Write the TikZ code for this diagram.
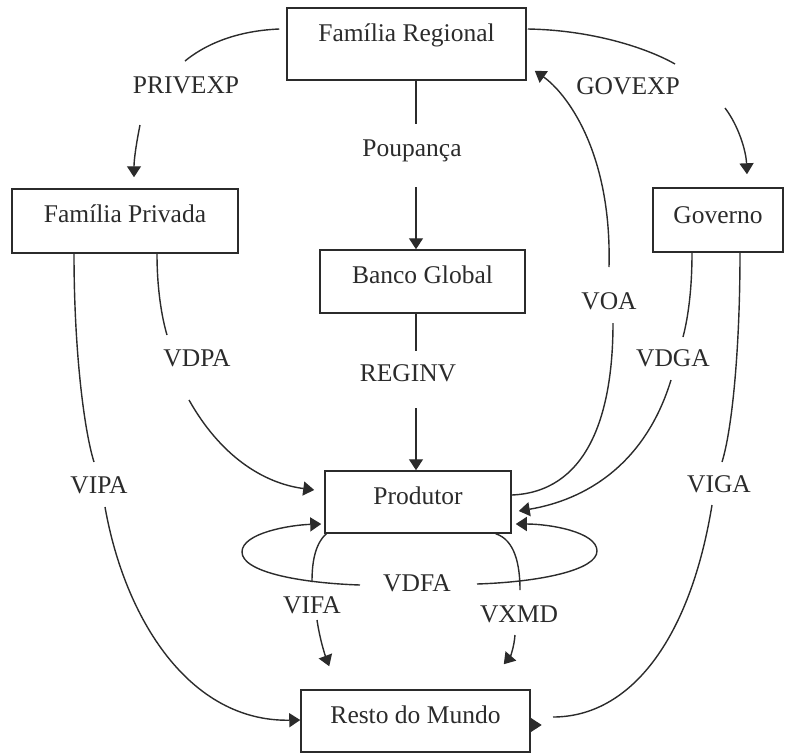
\documentclass[tikz,border=0pt]{standalone}
\usepackage{fontspec}
\setmainfont{Liberation Serif}
\usetikzlibrary{arrows.meta}
\definecolor{ink}{HTML}{2B2B2B}
\begin{document}
\begin{tikzpicture}[x=1pt,y=-1pt,
  every node/.style={text=ink, font=\fontsize{25.5}{30}\selectfont},
  box/.style={draw=ink, line width=1.5pt, inner sep=0pt, text height=18pt, text depth=#1},
  lab/.style={inner sep=0pt, text height=18pt, text depth=6pt},
  flow/.style={draw=ink, line width=1.4pt},
  tip/.style={flow, -{Triangle[length=11pt,width=14pt]}}]
\useasboundingbox (0,0) rectangle (790,753);

% boxes
\node[box=24pt, minimum width=239pt, minimum height=72pt] (fr) at (406.5,44) {Família Regional};
\node[box=16pt, minimum width=226pt, minimum height=64pt] (fp) at (125,221) {Família Privada};
\node[box=12pt, minimum width=130pt, minimum height=64pt] (gov) at (718,220) {Governo};
\node[box=15pt, minimum width=205pt, minimum height=63pt] (bg) at (422.5,281.5) {Banco Global};
\node[box=14pt, minimum width=186pt, minimum height=62pt] (prod) at (418,502) {Produtor};
\node[box=14pt, minimum width=229pt, minimum height=62pt] (rdm) at (415.5,721) {Resto do Mundo};

% labels
\node[lab] (privexp) at (186,87) {PRIVEXP};
\node[lab] (govexp) at (628,88) {GOVEXP};
\node[lab] (poup) at (412,150) {Poupança};
\node[lab] (reginv) at (408,375) {REGINV};
\node[lab] (voa) at (609,303) {VOA};
\node[lab] (vdga) at (673,360) {VDGA};
\node[lab] (vdpa) at (197,360) {VDPA};
\node[lab] (vipa) at (99,487) {VIPA};
\node[lab] (viga) at (719,486) {VIGA};
\node[lab] (vdfa) at (417,585) {VDFA};
\node[lab] (vifa) at (312,607) {VIFA};
\node[lab] (vxmd) at (519,616) {VXMD};

% PRIVEXP
\draw[flow] ([xshift=-7pt,yshift=15pt]fr.west) .. controls (232,31) and (202,47) .. (185,61);
\draw[tip] (140,125) .. controls (136,145) and (134,160) .. ([xshift=9pt,yshift=11pt]fp.north);

% GOVEXP
\draw[flow] ([xshift=1pt,yshift=15pt]fr.east) .. controls (590,30) and (645,47) .. (675,64);
\draw[tip] (725,108) .. controls (738,125) and (746,150) .. ([xshift=29pt,yshift=13pt]gov.north);

% Poupanca
\draw[flow] (fr.south -| 416,0) -- ++(0,43);
\draw[tip] (416,187) -- (bg.north -| 416,0);

% REGINV
\draw[flow] (bg.south -| 416,0) -- ++(0,37);
\draw[tip] (416,408) -- (prod.north -| 416,0);

% VOA
\draw[flow] ([yshift=7pt]prod.east) .. controls (585,492) and (613,420) .. (613,323);
\draw[tip] (609,267) .. controls (612,150) and (565,92) .. ([xshift=8pt,yshift=10pt]fr.south east);

% VDGA
\draw[flow] (gov.south -| 692,0) .. controls (692,290) and (688,318) .. (683,337);
\draw[tip] (671,380) .. controls (645,465) and (585,500) .. ([xshift=7pt,yshift=-9pt]prod.east);

% VIGA
\draw[flow] (gov.south -| 740,0) .. controls (740,350) and (732,430) .. (722,462);
\draw[flow] (712,505) .. controls (690,640) and (630,717) .. (553,717);
\draw[tip] ([yshift=-4pt]rdm.east) -- ++(11,0);

% VDPA
\draw[flow] (fp.south -| 157,0) .. controls (157,290) and (162,318) .. (167,335);
\draw[tip] (189,400) .. controls (220,455) and (262,483) .. ([xshift=-10pt,yshift=12pt]prod.west);

% VIPA
\draw[flow] (fp.south -| 74,0) .. controls (74,350) and (84,430) .. (94,462);
\draw[tip] (105,507) .. controls (125,620) and (190,722) .. ([yshift=1pt]rdm.west);

% VDFA loops
\draw[tip] (360,585) .. controls (300,583) and (242,572) .. (242,552) .. controls (242,533) and (290,525) .. ([xshift=-3pt,yshift=-22pt]prod.west);
\draw[tip] (477,584) .. controls (540,582) and (597,570) .. (597,551) .. controls (597,532) and (550,524) .. ([xshift=4pt,yshift=-22pt]prod.east);

% VIFA
\draw[flow] ([xshift=2pt]prod.south west) .. controls (314,545) and (312,565) .. (312,582);
\draw[tip] (317,620) .. controls (320,640) and (325,655) .. ([xshift=29pt,yshift=23pt]rdm.north west);

% VXMD
\draw[flow] ([xshift=-16pt]prod.south east) .. controls (515,540) and (520,565) .. (520,590);
\draw[tip] (515,635) .. controls (514,648) and (510,657) .. ([xshift=-27pt,yshift=25pt]rdm.north east);
\end{tikzpicture}
\end{document}
